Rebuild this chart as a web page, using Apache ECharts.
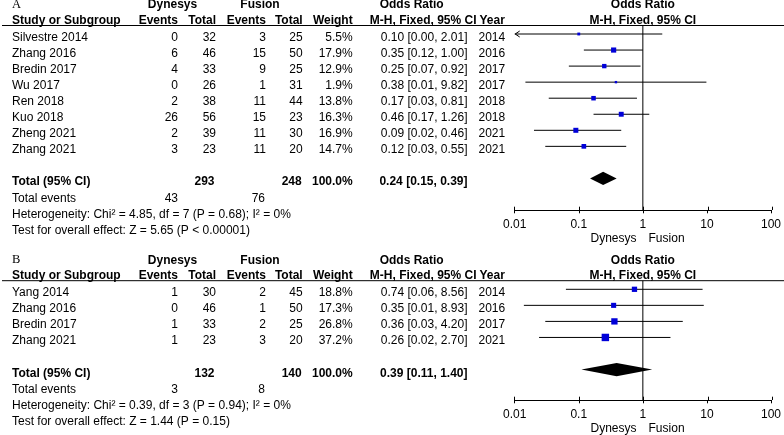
<!DOCTYPE html>
<html><head><meta charset="utf-8">
<script src="https://cdn.jsdelivr.net/npm/echarts@6/dist/echarts.min.js"></script>
<style>html,body{margin:0;padding:0;background:#fff}#c{width:784px;height:435px}</style>
</head><body><div id="c"></div>
<script>
// ---------- Panel A data ----------
const studiesA   = ['Silvestre 2014','Zhang 2016','Bredin 2017','Wu 2017','Ren 2018','Kuo 2018','Zheng 2021','Zhang 2021'];
const dynEventsA = [0, 6, 4, 0, 2, 26, 2, 3];
const dynTotalA  = [32, 46, 33, 26, 38, 56, 39, 23];
const fusEventsA = [3, 15, 9, 1, 11, 15, 11, 11];
const fusTotalA  = [25, 50, 25, 31, 44, 23, 30, 20];
const weightA    = [5.5, 17.9, 12.9, 1.9, 13.8, 16.3, 16.9, 14.7];
const orA        = [0.10, 0.35, 0.25, 0.38, 0.17, 0.46, 0.09, 0.12];
const loA        = [0.004, 0.12, 0.07, 0.0147, 0.034, 0.17, 0.02, 0.03];
const hiA        = [2.01, 1.00, 0.92, 9.82, 0.81, 1.26, 0.46, 0.55];
const yearA      = [2014, 2016, 2017, 2017, 2018, 2018, 2021, 2021];
const totalA     = {dynTotal:293, fusTotal:248, weight:100.0, or:0.24, lo:0.15, hi:0.39, dynEvents:43, fusEvents:76};
const hetA       = 'Heterogeneity: Chi² = 4.85, df = 7 (P = 0.68); I² = 0%';
const testA      = 'Test for overall effect: Z = 5.65 (P < 0.00001)';

// ---------- Panel B data ----------
const studiesB   = ['Yang 2014','Zhang 2016','Bredin 2017','Zhang 2021'];
const dynEventsB = [1, 0, 1, 1];
const dynTotalB  = [30, 46, 33, 23];
const fusEventsB = [2, 1, 2, 3];
const fusTotalB  = [45, 50, 25, 20];
const weightB    = [18.8, 17.3, 26.8, 37.2];
const orB        = [0.74, 0.35, 0.36, 0.26];
const loB        = [0.063, 0.0139, 0.03, 0.024];
const hiB        = [8.56, 8.93, 4.20, 2.70];
const yearB      = [2014, 2016, 2017, 2021];
const totalB     = {dynTotal:132, fusTotal:140, weight:100.0, or:0.39, lo:0.11, hi:1.40, dynEvents:3, fusEvents:8};
const hetB       = 'Heterogeneity: Chi² = 0.39, df = 3 (P = 0.94); I² = 0%';
const testB      = 'Test for overall effect: Z = 1.44 (P = 0.15)';

const axisTicks  = [0.01, 0.1, 1, 10, 100];

// ---------- layout ----------
const FONT = '"Liberation Sans", Arial, sans-serif';
const SERIF = '"Liberation Serif", "Times New Roman", serif';
const PITCH = 16.05;
const GRID_LEFT = 514.7, GRID_RIGHT = 11.3;
const panels = [
  {label:'A', headerLine:25.5, row0:34, axisY:210, totalRow:9,
   studies:studiesA, dE:dynEventsA, dT:dynTotalA, fE:fusEventsA, fT:fusTotalA, w:weightA, or:orA, lo:loA, hi:hiA, yr:yearA, tot:totalA, het:hetA, test:testA},
  {label:'B', headerLine:280.7, row0:289.3, axisY:400, totalRow:5,
   studies:studiesB, dE:dynEventsB, dT:dynTotalB, fE:fusEventsB, fT:fusTotalB, w:weightB, or:orB, lo:loB, hi:hiB, yr:yearB, tot:totalB, het:hetB, test:testB}
];
const COL = {name:12, dE:178, dT:216, fE:266, fT:302.7, w:352.7, or:467.5, yr:478.5};

function txt(text, x, y, align, bold, font, size){
  return {type:'text', x:x, y:y, silent:true, z:10,
    style:{text:String(text), fill:'#000', align:align||'left', verticalAlign:'middle',
      fontSize:size||12, fontFamily:font||FONT, fontWeight:bold?'bold':'normal'}};
}
const fmt2 = v => v.toFixed(2);
const orText = (o,l,h) => fmt2(o)+' ['+fmt2(l)+', '+fmt2(h)+']';

const chart = echarts.init(document.getElementById('c'), null, {renderer:'canvas'});

const grids = [], xAxes = [], yAxes = [], series = [];
const xMin = axisTicks[0], xMax = axisTicks[axisTicks.length-1];
panels.forEach((p, k) => {
  const yMin = (p.headerLine - p.row0)/PITCH, yMax = (p.axisY - p.row0)/PITCH;
  const gi = k*2;
  // main grid + an identical overlay grid carrying the inward half of the ticks
  for (let g = 0; g < 2; g++) {
    grids.push({left:GRID_LEFT, right:GRID_RIGHT, top:p.headerLine, height:p.axisY - p.headerLine, containLabel:false});
    yAxes.push({gridIndex:gi+g, type:'value', inverse:true, min:yMin, max:yMax, show:false, splitLine:{show:false}});
  }
  xAxes.push({gridIndex:gi, type:'log', logBase:10, min:xMin, max:xMax, position:'bottom',
    axisLine:{show:true, onZero:false, lineStyle:{color:'#000', width:1}},
    axisTick:{show:true, length:3.3, lineStyle:{color:'#000', width:1}},
    axisLabel:{show:true, color:'#000', fontSize:12, fontFamily:FONT, margin:9,
      formatter: v => String(+(+v).toPrecision(3))},
    splitLine:{show:false}, minorTick:{show:false}});
  xAxes.push({gridIndex:gi+1, type:'log', logBase:10, min:xMin, max:xMax, position:'bottom',
    axisLine:{show:false, onZero:false}, axisTick:{show:true, inside:true, length:3.3, lineStyle:{color:'#000', width:1}},
    axisLabel:{show:false}, splitLine:{show:false}});
  // line of no effect
  series.push({type:'line', xAxisIndex:gi, yAxisIndex:gi, data:[[1, yMin],[1, yMax]], symbol:'none', silent:true,
    lineStyle:{color:'#000', width:1}, z:1, animation:false});
  // studies
  const sData = p.studies.map((s,i) => [p.or[i], p.lo[i], p.hi[i], i, p.w[i]]);
  series.push({type:'custom', xAxisIndex:gi, yAxisIndex:gi, data:sData, encode:{x:[0,1,2], y:3}, z:3, animation:false, silent:true,
    renderItem:(params, api) => {
      const o=api.value(0), lo=api.value(1), hi=api.value(2), r=api.value(3), w=api.value(4);
      const clipped = lo < xMin;
      const pL = api.coord([Math.max(lo, xMin), r]);
      const pH = api.coord([hi, r]);
      const pC = api.coord([o, r]);
      const s = Math.max(2.4, 1.22*Math.sqrt(w));
      const ch = [{type:'line', shape:{x1:pL[0], y1:pL[1], x2:pH[0], y2:pH[1]}, style:{stroke:'#000', lineWidth:1}}];
      if (clipped) ch.push({type:'polyline', shape:{points:[[pL[0]+5,pL[1]-3],[pL[0]+0.5,pL[1]],[pL[0]+5,pL[1]+3]]}, style:{stroke:'#000', fill:null, lineWidth:1}});
      ch.push({type:'rect', shape:{x:pC[0]-s/2, y:pC[1]-s/2, width:s, height:s}, style:{fill:'#0000d8'}});
      return {type:'group', children:ch};
    }});
  // diamond
  series.push({type:'custom', xAxisIndex:gi, yAxisIndex:gi, data:[[p.tot.or, p.tot.lo, p.tot.hi, p.totalRow]], encode:{x:[0,1,2], y:3}, z:3, animation:false, silent:true,
    renderItem:(params, api) => {
      const r = api.value(3);
      const a = api.coord([api.value(1), r]), c = api.coord([api.value(0), r]), b = api.coord([api.value(2), r]);
      const h = 6.6;
      return {type:'polygon', shape:{points:[[a[0],a[1]],[c[0],c[1]-h],[b[0],b[1]],[c[0],c[1]+h]]}, style:{fill:'#000'}};
    }});
});

chart.setOption({animation:false, backgroundColor:'#fff', grid:grids, xAxis:xAxes, yAxis:yAxes, series:series});

// ---------- table text ----------
const graphics = [];
panels.forEach((p, k) => {
  const hl = p.headerLine;
  const x1 = chart.convertToPixel({xAxisIndex:k*2}, 1);
  const gY = hl - 20.5, sY = hl - 5;
  graphics.push({type:'line', silent:true, shape:{x1:2, y1:hl, x2:784, y2:hl}, style:{stroke:'#000', lineWidth:1}});
  graphics.push(txt(p.label, 12, gY, 'left', false, SERIF, 12.5));
  graphics.push(txt('Dynesys', 172.5, gY, 'center', true));
  graphics.push(txt('Fusion', 260, gY, 'center', true));
  graphics.push(txt('Odds Ratio', 411.7, gY, 'center', true));
  graphics.push(txt('Odds Ratio', x1, gY, 'center', true));
  graphics.push(txt('Study or Subgroup', COL.name, sY, 'left', true));
  graphics.push(txt('Events', COL.dE, sY, 'right', true));
  graphics.push(txt('Total', COL.dT, sY, 'right', true));
  graphics.push(txt('Events', COL.fE, sY, 'right', true));
  graphics.push(txt('Total', COL.fT, sY, 'right', true));
  graphics.push(txt('Weight', COL.w, sY, 'right', true));
  graphics.push(txt('M-H, Fixed, 95% CI', 476.5, sY, 'right', true));
  graphics.push(txt('Year', 479.5, sY, 'left', true));
  graphics.push(txt('M-H, Fixed, 95% CI', x1, sY, 'center', true));
  p.studies.forEach((s, i) => {
    const y = p.row0 + i*PITCH + 3.7;
    graphics.push(txt(s, COL.name, y, 'left'));
    graphics.push(txt(p.dE[i], COL.dE, y, 'right'));
    graphics.push(txt(p.dT[i], COL.dT, y, 'right'));
    graphics.push(txt(p.fE[i], COL.fE, y, 'right'));
    graphics.push(txt(p.fT[i], COL.fT, y, 'right'));
    graphics.push(txt(p.w[i].toFixed(1)+'%', COL.w, y, 'right'));
    graphics.push(txt(orText(p.or[i], p.lo[i], p.hi[i]), COL.or, y, 'right'));
    graphics.push(txt(p.yr[i], COL.yr, y, 'left'));
  });
  const ty = p.row0 + p.totalRow*PITCH + 3.7;
  graphics.push(txt('Total (95% CI)', COL.name, ty, 'left', true));
  graphics.push(txt(p.tot.dynTotal, COL.dT - 1.5, ty, 'right', true));
  graphics.push(txt(p.tot.fusTotal, COL.fT - 1, ty, 'right', true));
  graphics.push(txt(p.tot.weight.toFixed(1)+'%', COL.w, ty, 'right', true));
  graphics.push(txt(orText(p.tot.or, p.tot.lo, p.tot.hi), COL.or, ty, 'right', true));
  const ey = ty + PITCH;
  graphics.push(txt('Total events', COL.name, ey, 'left'));
  graphics.push(txt(p.tot.dynEvents, COL.dE, ey, 'right'));
  graphics.push(txt(p.tot.fusEvents, COL.fE - 1, ey, 'right'));
  graphics.push(txt(p.het, COL.name, ey + PITCH, 'left'));
  graphics.push(txt(p.test, COL.name, ey + 2*PITCH, 'left'));
  // favours labels under the axis
  const fy = p.axisY + 28.3;
  graphics.push(txt('Dynesys', x1 - 6.3, fy, 'right'));
  graphics.push(txt('Fusion', x1 + 5.7, fy, 'left'));
});
chart.setOption({graphic:graphics});
</script></body></html>
